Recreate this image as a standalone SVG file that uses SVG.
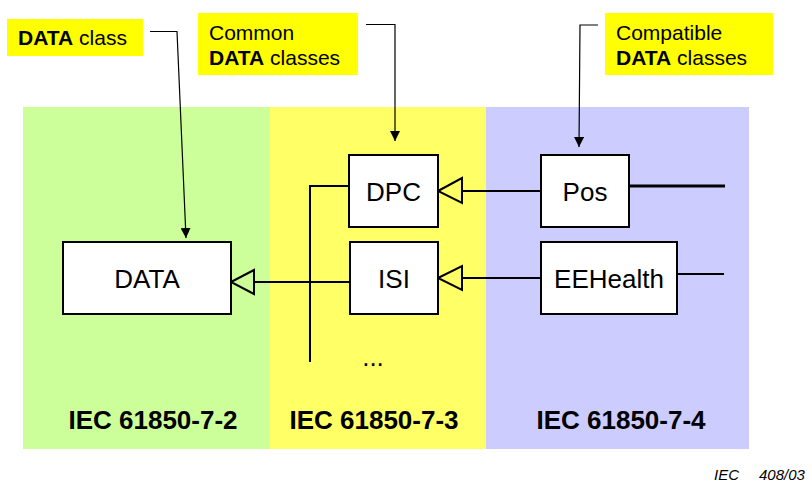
<svg xmlns="http://www.w3.org/2000/svg" width="811" height="482" viewBox="0 0 811 482">
<style>
text{font-family:"Liberation Sans",Arial,sans-serif;fill:#000}
.lbl{font-size:21px}
.b{font-weight:bold}
.node rect{fill:#fff;stroke:#000;stroke-width:2}
.node text{font-size:26px;text-anchor:middle}
.std{font-size:26px;font-weight:bold;text-anchor:middle}
.tag rect{fill:#ffff00}
.conn{fill:none;stroke:#000;stroke-width:2}
.lead{fill:none;stroke:#000;stroke-width:1.2}
.tri{fill:none;stroke:#000;stroke-width:2;stroke-linejoin:miter}
</style>
<defs>
<marker id="ah" viewBox="0 0 10 10" refX="10" refY="5" markerWidth="10" markerHeight="10" markerUnits="userSpaceOnUse" orient="auto">
<path d="M0,0 L10,5 L0,10 Z" fill="#000"/>
</marker>
</defs>
<g id="panels">
<rect x="23" y="107" width="247" height="342" fill="#ccff99"/>
<rect x="270" y="107" width="216" height="342" fill="#ffff66"/>
<rect x="486" y="107" width="263" height="342" fill="#ccccff"/>
<text class="std" x="153" y="429">IEC 61850-7-2</text>
<text class="std" x="374" y="429">IEC 61850-7-3</text>
<text class="std" x="621" y="429">IEC 61850-7-4</text>
</g>
<g id="tag-data" class="tag">
<rect x="7" y="19" width="136" height="37"/>
<text class="lbl" x="18" y="45"><tspan class="b">DATA</tspan> class</text>
</g>
<g id="tag-common" class="tag">
<rect x="198" y="13" width="160" height="62"/>
<text class="lbl" x="209" y="40">Common</text>
<text class="lbl" x="209" y="65"><tspan class="b">DATA</tspan> classes</text>
</g>
<g id="tag-compatible" class="tag">
<rect x="605" y="13" width="168" height="62"/>
<text class="lbl" x="616" y="40">Compatible</text>
<text class="lbl" x="616" y="65"><tspan class="b">DATA</tspan> classes</text>
</g>
<g id="connectors">
<path class="lead" d="M150,31.5 H177 L186,238" marker-end="url(#ah)"/>
<path class="lead" d="M366,24.5 H395 V141" marker-end="url(#ah)"/>
<path class="lead" d="M598,25 H580 L579,147" marker-end="url(#ah)"/>
<path class="conn" d="M541,191 H462"/>
<path class="tri" d="M438,191 L462,178 L462,203 Z"/>
<path class="conn" d="M541,278 H462"/>
<path class="tri" d="M438,278 L462,266 L462,290 Z"/>
<path class="conn" d="M350,282 H254"/>
<path class="tri" d="M231,282 L254,270 L254,294 Z"/>
<path class="conn" d="M349,186 H310 V362"/>
<path class="conn" d="M629,186 H725" style="stroke-width:3"/>
<path class="conn" d="M677,274 H724"/>
</g>
<g id="node-data" class="node">
<rect x="63" y="242" width="168" height="72"/>
<text x="147" y="288">DATA</text>
</g>
<g id="node-dpc" class="node">
<rect x="349" y="155" width="89" height="72"/>
<text x="393.5" y="201">DPC</text>
</g>
<g id="node-isi" class="node">
<rect x="350" y="242" width="88" height="72"/>
<text x="394" y="288">ISI</text>
</g>
<g id="node-pos" class="node">
<rect x="541" y="155" width="88" height="72"/>
<text x="585" y="201">Pos</text>
</g>
<g id="node-eehealth" class="node">
<rect x="541" y="242" width="136" height="72"/>
<text x="609" y="288">EEHealth</text>
</g>
<text x="373" y="366" style="font-size:26px;text-anchor:middle">...</text>
<text x="714" y="480" style="font-size:15px;font-style:italic">IEC<tspan x="759">408/03</tspan></text>
</svg>
